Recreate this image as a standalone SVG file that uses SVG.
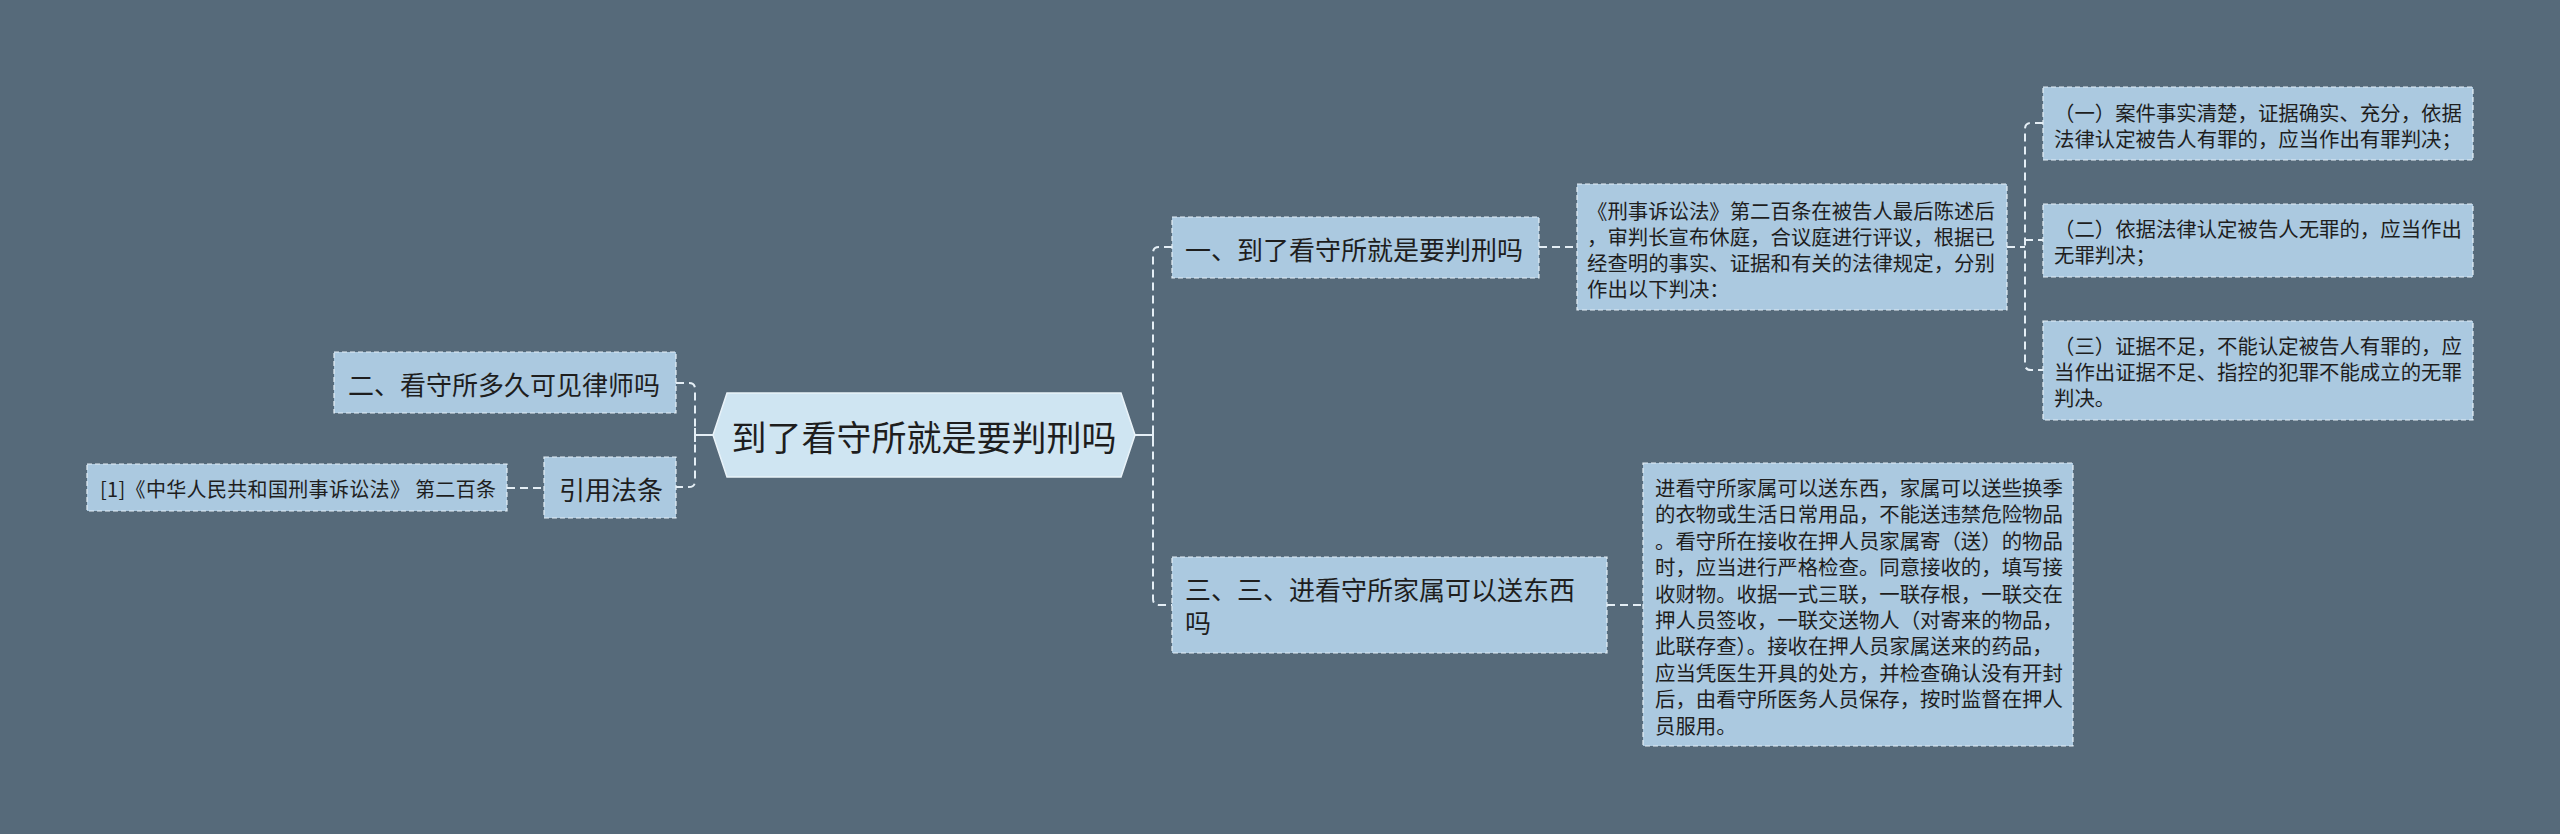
<svg xmlns="http://www.w3.org/2000/svg" width="2560" height="834" viewBox="0 0 2560 834">
<style>
.bg{fill:#566a7a}
.node{fill:#abc9e0;stroke:#e4eef5;stroke-width:1.2;stroke-dasharray:5 3}
.root{fill:#cfe5f2;stroke:#e9f3f9;stroke-width:1.5}
.t{font-family:"Noto Sans CJK SC","Liberation Sans",sans-serif;fill:#1e1e1e;dominant-baseline:central}
.big{font-size:35px}
.mid{font-size:26px}
.sm{font-size:20.4px}
.c{fill:none;stroke:#e4eef5;stroke-width:2;stroke-dasharray:8 5}
.s{fill:none;stroke:#e4eef5;stroke-width:2}
</style>
<rect class="bg" x="0" y="0" width="2560" height="834"/>
<g id="connectors">
<path class="s" d="M713 435 H695 M695 428 V442"/>
<path class="c" d="M676 383 H689 Q695 383 695 389 V481 Q695 487 689 487 H676"/>
<path class="c" d="M507 488 H544"/>
<path class="s" d="M1135 435 H1153 M1153 428 V442"/>
<path class="c" d="M1172 247 H1159 Q1153 247 1153 253 V599 Q1153 605 1159 605 H1172"/>
<path class="c" d="M1539 247 H1577"/>
<path class="c" d="M2007 247 H2025"/>
<path class="c" d="M2043 123 H2031 Q2025 123 2025 129 V364 Q2025 370 2031 370 H2043 M2025 240 H2043"/>
<path class="c" d="M1607 605 H1643"/>
</g>
<g id="root">
<polygon class="root" points="713,435 727,393 1121,393 1135,435 1121,477 727,477"/>
<text class="t big" x="924" y="435" text-anchor="middle">到了看守所就是要判刑吗</text>
</g>
<g id="n2">
<rect class="node" x="334" y="352" width="342" height="61"/>
<text class="t mid" x="348" y="383">二、看守所多久可见律师吗</text>
</g>
<g id="cite">
<rect class="node" x="544" y="457" width="132" height="61"/>
<text class="t mid" x="559" y="488">引用法条</text>
</g>
<g id="cite1">
<rect class="node" x="87" y="464" width="420" height="47"/>
<text class="t" style="font-size:20px" x="100" y="488" textLength="396" lengthAdjust="spacing">[1]《中华人民共和国刑事诉讼法》 第二百条</text>
</g>
<g id="n1">
<rect class="node" x="1172" y="217" width="367" height="61"/>
<text class="t mid" x="1185" y="248">一、到了看守所就是要判刑吗</text>
</g>
<g id="law">
<rect class="node" x="1577" y="184" width="430" height="126"/>
<text class="t sm" x="1587"><tspan x="1587" y="210">《刑事诉讼法》第二百条在被告人最后陈述后</tspan><tspan x="1587" y="236">，审判长宣布休庭，合议庭进行评议，根据已</tspan><tspan x="1587" y="262">经查明的事实、证据和有关的法律规定，分别</tspan><tspan x="1587" y="288">作出以下判决：</tspan></text>
</g>
<g id="j1">
<rect class="node" x="2043" y="87" width="430" height="73"/>
<text class="t sm"><tspan x="2054" y="112">（一）案件事实清楚，证据确实、充分，依据</tspan><tspan x="2054" y="138">法律认定被告人有罪的，应当作出有罪判决；</tspan></text>
</g>
<g id="j2">
<rect class="node" x="2043" y="204" width="430" height="73"/>
<text class="t sm"><tspan x="2054" y="228">（二）依据法律认定被告人无罪的，应当作出</tspan><tspan x="2054" y="254">无罪判决；</tspan></text>
</g>
<g id="j3">
<rect class="node" x="2043" y="321" width="430" height="99"/>
<text class="t sm"><tspan x="2054" y="345">（三）证据不足，不能认定被告人有罪的，应</tspan><tspan x="2054" y="371">当作出证据不足、指控的犯罪不能成立的无罪</tspan><tspan x="2054" y="397">判决。</tspan></text>
</g>
<g id="n3">
<rect class="node" x="1172" y="557" width="435" height="96"/>
<text class="t mid"><tspan x="1185" y="588">三、三、进看守所家属可以送东西</tspan><tspan x="1185" y="621">吗</tspan></text>
</g>
<g id="send">
<rect class="node" x="1643" y="463" width="430" height="283"/>
<text class="t sm"><tspan x="1655" y="487">进看守所家属可以送东西，家属可以送些换季</tspan><tspan x="1655" y="513.4">的衣物或生活日常用品，不能送违禁危险物品</tspan><tspan x="1655" y="539.8">。看守所在接收在押人员家属寄（送）的物品</tspan><tspan x="1655" y="566.2">时，应当进行严格检查。同意接收的，填写接</tspan><tspan x="1655" y="592.6">收财物。收据一式三联，一联存根，一联交在</tspan><tspan x="1655" y="619">押人员签收，一联交送物人（对寄来的物品，</tspan><tspan x="1655" y="645.4">此联存查）。接收在押人员家属送来的药品，</tspan><tspan x="1655" y="671.8">应当凭医生开具的处方，并检查确认没有开封</tspan><tspan x="1655" y="698.2">后，由看守所医务人员保存，按时监督在押人</tspan><tspan x="1655" y="724.6">员服用。</tspan></text>
</g>
</svg>
